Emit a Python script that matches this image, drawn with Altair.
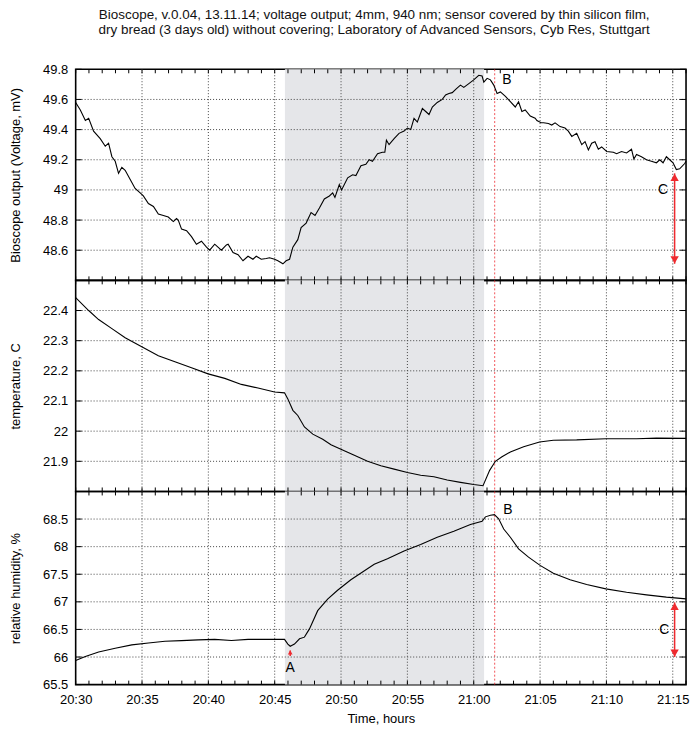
import altair as alt
import pandas as pd

FONT = "Liberation Sans"

TITLE = [
    "Bioscope, v.0.04, 13.11.14; voltage output; 4mm, 940 nm; sensor covered by thin silicon film,",
    "dry bread (3 days old) without covering; Laboratory of Advanced Sensors, Cyb Res, Stuttgart",
]

# time axis: minutes after 20:30
X_DOMAIN = [0, 46]
X_TICKS = [0, 5, 10, 15, 20, 25, 30, 35, 40, 45]
X_LABELS = ["20:30", "20:35", "20:40", "20:45", "20:50", "20:55",
            "21:00", "21:05", "21:10", "21:15"]
X_MINOR = list(range(0, 47))

# shaded interval and marker line
BAND_START = 15.77
BAND_END = 30.78
MARK_B = 31.58

# Bioscope output, mV
VOLT_T = [0.00, 0.35, 0.73, 0.98, 1.35, 1.85, 2.23, 2.48, 2.73, 2.98, 3.23, 3.48, 3.73,
          4.10, 4.48, 4.86, 5.10, 5.48, 5.86, 6.23, 6.61, 6.98, 7.36, 7.60, 7.73, 7.98,
          8.36, 8.73, 9.10, 9.48, 9.86, 10.10, 10.48, 10.98, 11.36, 11.49, 11.86, 12.24,
          12.61, 12.99, 13.36, 13.61, 13.99, 14.36, 14.61, 14.99, 15.24, 15.62, 15.86,
          16.12, 16.37, 16.74, 16.99, 17.37, 17.74, 18.04, 18.37, 18.74, 19.12, 19.37,
          19.54, 19.87, 20.04, 20.50, 20.87, 21.12, 21.50, 21.87, 22.12, 22.37, 22.75,
          23.12, 23.30, 23.42, 23.62, 24.00, 24.37, 24.75, 25.00, 25.25, 25.50, 25.75,
          26.13, 26.38, 26.63, 26.88, 27.25, 27.63, 27.88, 28.13, 28.38, 28.68, 29.00,
          29.25, 29.63, 30.00, 30.38, 30.63, 30.76, 31.01, 31.26, 31.51, 31.76, 32.01,
          32.39, 32.76, 33.13, 33.38, 33.63, 33.88, 34.26, 34.63, 34.76, 35.08, 35.26,
          35.63, 35.88, 36.13, 36.51, 36.88, 37.13, 37.39, 37.76, 38.14, 38.39, 38.64,
          38.89, 39.14, 39.39, 39.64, 40.02, 40.52, 40.77, 41.14, 41.52, 41.89, 42.07,
          42.27, 42.64, 43.02, 43.39, 43.77, 44.02, 44.27, 44.52, 44.77, 45.02, 45.27,
          45.52, 45.90, 46.00]
VOLT_V = [49.58, 49.53, 49.46, 49.475, 49.39, 49.34, 49.29, 49.31, 49.22, 49.19, 49.11, 49.15, 49.13,
          49.07, 49.01, 48.98, 48.96, 48.91, 48.89, 48.84, 48.83, 48.82, 48.79, 48.81, 48.80, 48.74,
          48.73, 48.69, 48.64, 48.66, 48.62, 48.60, 48.64, 48.60, 48.635, 48.64, 48.585, 48.57,
          48.53, 48.56, 48.54, 48.56, 48.54, 48.545, 48.55, 48.54, 48.53, 48.51, 48.53,
          48.54, 48.62, 48.67, 48.75, 48.78, 48.85, 48.83, 48.88, 48.94, 48.96, 48.98,
          48.95, 49.035, 49.00, 49.08, 49.10, 49.095, 49.16, 49.17, 49.20, 49.19, 49.24,
          49.25, 49.25, 49.33, 49.30, 49.34, 49.375, 49.39, 49.41, 49.40, 49.475, 49.45,
          49.54, 49.52, 49.50, 49.55, 49.58, 49.60, 49.63, 49.64, 49.645, 49.67, 49.695,
          49.68, 49.705, 49.73, 49.76, 49.755, 49.715, 49.74, 49.73, 49.695, 49.64, 49.65,
          49.62, 49.585, 49.55, 49.585, 49.52, 49.53, 49.49, 49.475, 49.46, 49.445, 49.445,
          49.44, 49.43, 49.445, 49.42, 49.41, 49.39, 49.355, 49.375, 49.30, 49.32, 49.265,
          49.31, 49.32, 49.27, 49.285, 49.255, 49.25, 49.24, 49.255, 49.245, 49.27, 49.205,
          49.235, 49.22, 49.20, 49.19, 49.18, 49.20, 49.18, 49.22, 49.20, 49.18, 49.135,
          49.14, 49.175, 49.19]

# temperature, C
TEMP_T = [0.00, 0.98, 1.73, 2.73, 3.73, 4.98, 6.23, 7.48, 8.73, 9.98, 11.24, 12.49, 13.74,
          14.99, 15.74, 15.99, 16.37, 16.74, 17.24, 17.87, 18.62, 19.24, 19.99, 21.00,
          22.00, 23.00, 24.00, 25.00, 26.00, 27.00, 28.00, 29.00, 30.00, 30.70, 31.20,
          31.63, 32.13, 32.76, 33.76, 34.96, 36.00, 37.76, 39.96, 42.27, 43.77, 46.00]
TEMP_V = [22.443, 22.400, 22.370, 22.340, 22.310, 22.280, 22.250, 22.230, 22.210, 22.190,
          22.175, 22.155, 22.143, 22.130, 22.127, 22.107, 22.069, 22.052, 22.014, 21.990,
          21.973, 21.955, 21.940, 21.920, 21.900, 21.885, 21.874, 21.863, 21.854, 21.849,
          21.838, 21.830, 21.823, 21.819, 21.870, 21.900, 21.915, 21.931, 21.948, 21.964,
          21.970, 21.971, 21.975, 21.975, 21.977, 21.976]

# relative humidity, %
HUM_T = [0.00, 0.73, 1.73, 2.98, 4.23, 5.48, 6.73, 7.98, 9.23, 10.48, 11.74, 12.99, 14.24,
         15.74, 15.99, 16.17, 16.49, 16.87, 17.24, 17.62, 18.24, 18.99, 19.74, 20.74, 21.62,
         22.50, 23.50, 24.75, 26.00, 27.25, 28.50, 29.75, 30.63, 30.88, 31.26, 31.56, 31.88,
         32.26, 32.76, 33.38, 34.13, 35.00, 36.00, 37.26, 38.51, 39.96, 41.52, 43.02, 44.52,
         46.00]
HUM_V = [65.936, 66.01, 66.09, 66.16, 66.22, 66.255, 66.286, 66.298, 66.31, 66.32, 66.30,
         66.32, 66.32, 66.32, 66.235, 66.195, 66.235, 66.33, 66.36, 66.51, 66.84, 67.05,
         67.21, 67.40, 67.54, 67.68, 67.78, 67.92, 68.04, 68.17, 68.28, 68.40, 68.46, 68.54,
         68.57, 68.58, 68.505, 68.32, 68.17, 67.96, 67.81, 67.66, 67.52, 67.40, 67.315,
         67.235, 67.175, 67.126, 67.085, 67.054]

# panel y ranges and tick values
VOLT_DOMAIN = [48.4, 49.8]
VOLT_TICKS = [48.6, 48.8, 49.0, 49.2, 49.4, 49.6, 49.8]
TEMP_DOMAIN = [21.8, 22.5]
TEMP_TICKS = [21.9, 22.0, 22.1, 22.2, 22.3, 22.4]
HUM_DOMAIN = [65.5, 69.0]
HUM_TICKS = [65.5, 66.0, 66.5, 67.0, 67.5, 68.0, 68.5]
HUM_GRID = [66.0, 66.5, 67.0, 67.5, 68.0, 68.5]

# annotations: letter labels and red arrows (time, value)
VOLT_LABELS = {"t": [32.5, 44.27], "v": [49.73, 49.0], "label": ["B", "C"]}
VOLT_ARROW = {"t": [45.14], "top": [49.11], "bottom": [48.51]}
HUM_LABELS = {"t": [32.58, 44.37, 16.17], "v": [68.66, 66.49, 65.80], "label": ["B", "C", "A"]}
HUM_ARROW = {"t": [45.14], "top": [66.99], "bottom": [66.0]}
HUM_SMALL_ARROW = {"t": [16.17], "top": [66.12], "bottom": [66.02]}

WIDTH = 613
RED = "#ee2a2f"
GRID = "#444444"

label_expr = "[" + ",".join("'%s'" % s for s in X_LABELS) + "][round(datum.value / 5)]"


def panel(line_df, y_domain, y_ticks, grid_ticks, y_title, height,
          labels=None, arrow=None, small_arrow=None, x_axis=False):
    x_scale = alt.Scale(domain=X_DOMAIN, nice=False, zero=False)
    y_scale = alt.Scale(domain=y_domain, nice=False, zero=False)
    if x_axis:
        x_ax = alt.Axis(values=X_TICKS, labelExpr=label_expr, title="Time, hours",
                        labelPadding=9, titlePadding=6, labelFlush=False)
    else:
        x_ax = None
    y_ax = alt.Axis(values=y_ticks, format=".1~f", title=y_title,
                    labelPadding=8, titlePadding=20, labelFlush=False)

    def X(field):
        return alt.X(field, type="quantitative", scale=x_scale, axis=x_ax)

    def Y(field):
        return alt.Y(field, type="quantitative", scale=y_scale, axis=y_ax)

    band = alt.Chart(pd.DataFrame({"a": [BAND_START], "b": [BAND_END]})).mark_rect(
        color="#e5e6e9").encode(x=X("a:Q"), x2="b:Q")

    vgrid = alt.Chart(pd.DataFrame({"t": X_TICKS[1:]})).mark_rule(
        color=GRID, strokeWidth=1, strokeDash=[1, 2]).encode(x=X("t:Q"))
    hgrid = alt.Chart(pd.DataFrame({"v": grid_ticks})).mark_rule(
        color=GRID, strokeWidth=1, strokeDash=[1, 2]).encode(y=Y("v:Q"))

    minor = pd.DataFrame({"t": X_MINOR})
    tick_bottom = alt.Chart(minor).mark_rule(color="black", strokeWidth=1).encode(
        x=X("t:Q"), y=alt.value(height), y2=alt.value(height - 4))
    tick_top = alt.Chart(minor).mark_rule(color="black", strokeWidth=1).encode(
        x=X("t:Q"), y=alt.value(0), y2=alt.value(4))
    yt = pd.DataFrame({"v": y_ticks})
    tick_left = alt.Chart(yt).mark_rule(color="black", strokeWidth=1).encode(
        y=Y("v:Q"), x=alt.value(0), x2=alt.value(6))
    tick_right = alt.Chart(yt).mark_rule(color="black", strokeWidth=1).encode(
        y=Y("v:Q"), x=alt.value(WIDTH - 6), x2=alt.value(WIDTH))

    marker = alt.Chart(pd.DataFrame({"t": [MARK_B]})).mark_rule(
        color=RED, strokeWidth=1, strokeDash=[2, 2], opacity=0.8).encode(x=X("t:Q"))

    line = alt.Chart(line_df).mark_line(color="black", strokeWidth=1.1).encode(
        x=X("t:Q"), y=Y("v:Q"), order="t:Q")

    layers = [band, vgrid, hgrid, tick_bottom, tick_top, tick_left, tick_right, marker, line]

    if labels is not None:
        layers.append(alt.Chart(pd.DataFrame(labels)).mark_text(
            font=FONT, fontSize=14, color="black").encode(
            x=X("t:Q"), y=Y("v:Q"), text="label:N"))
    for arr, head, shaft_w in ((arrow, 70, 1.5), (small_arrow, 22, 1.5)):
        if arr is None:
            continue
        adf = pd.DataFrame(arr)
        off = 4 if head > 40 else 2
        layers.append(alt.Chart(adf).mark_rule(color=RED, strokeWidth=shaft_w).encode(
            x=X("t:Q"), y=Y("top:Q"), y2="bottom:Q"))
        layers.append(alt.Chart(adf).mark_point(
            shape="triangle-up", filled=True, color=RED, size=head, opacity=1,
            yOffset=off).encode(x=X("t:Q"), y=Y("top:Q")))
        if head > 40:
            layers.append(alt.Chart(adf).mark_point(
                shape="triangle-down", filled=True, color=RED, size=head, opacity=1,
                yOffset=-off).encode(x=X("t:Q"), y=Y("bottom:Q")))

    return alt.layer(*layers).properties(width=WIDTH, height=height)


volt = pd.DataFrame({"t": VOLT_T, "v": VOLT_V})
temp = pd.DataFrame({"t": TEMP_T, "v": TEMP_V})
hum = pd.DataFrame({"t": HUM_T, "v": HUM_V})

top = panel(volt, VOLT_DOMAIN, VOLT_TICKS, VOLT_TICKS[:-1], "Bioscope output (Voltage, mV)", 212,
            labels=VOLT_LABELS, arrow=VOLT_ARROW)
mid = panel(temp, TEMP_DOMAIN, TEMP_TICKS, TEMP_TICKS, "temperature, C", 212)
bot = panel(hum, HUM_DOMAIN, HUM_TICKS, HUM_GRID, "relative humidity, %", 194,
            labels=HUM_LABELS, arrow=HUM_ARROW, small_arrow=HUM_SMALL_ARROW, x_axis=True)

chart = alt.vconcat(top, mid, bot, spacing=0, bounds="flush").properties(
    title=alt.TitleParams(text=TITLE, anchor="middle", font=FONT, fontSize=13.5,
                          fontWeight="normal", color="#111", lineHeight=15.5, offset=26,
                          dx=25),
    padding={"left": 8, "right": 3, "top": 6, "bottom": 5},
).configure_view(
    stroke="black", strokeWidth=1.6
).configure_axis(
    labelFont=FONT, titleFont=FONT, labelFontSize=13, titleFontSize=13,
    titleFontWeight="normal", labelColor="black", titleColor="black",
    grid=False, ticks=False, tickSize=0, domain=False
)

chart.save("out.html", embed_options={"renderer": "svg", "actions": False})
